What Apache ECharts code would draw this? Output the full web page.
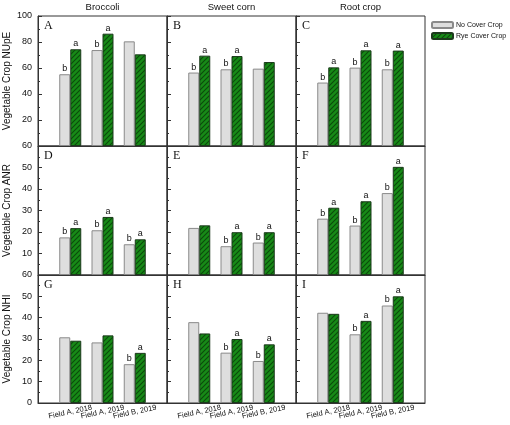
<!DOCTYPE html>
<html>
<head>
<meta charset="utf-8">
<script src="https://cdn.jsdelivr.net/npm/echarts@6/dist/echarts.min.js"></script>
<style>
html,body{margin:0;padding:0;background:#fff;}
#chart{width:510px;height:425px;}
</style>
</head>
<body>
<div id="chart"></div>
<script>
// ---- data ----
const categories = ['Field A, 2018', 'Field A, 2019', 'Field B, 2019'];
const cropTitles = ['Broccoli', 'Sweet corn', 'Root crop'];
const rowNames = ['Vegetable Crop NUpE', 'Vegetable Crop ANR', 'Vegetable Crop NHI'];
const panelLetters = ['A','B','C','D','E','F','G','H','I'];
const seriesNames = ['No Cover Crop', 'Rye Cover Crop'];

// values per panel (A..I), order of categories
const noCover = [
  [55.2, 73.8, 80.5],  // A
  [56.5, 59.0, 59.5],  // B
  [48.8, 60.3, 59.0],  // C
  [17.5, 20.8, 14.3],  // D
  [21.9, 13.4, 15.1],  // E
  [26.2, 23.0, 38.1],  // F
  [30.8, 28.4, 18.2],  // G
  [37.9, 23.6, 19.7],  // H
  [42.3, 32.2, 45.7]   // I
];
const ryeCover = [
  [74.4, 86.4, 70.5],
  [69.5, 69.2, 64.6],
  [60.5, 73.6, 73.4],
  [21.8, 27.0, 16.6],
  [23.1, 19.9, 19.9],
  [31.3, 34.3, 50.3],
  [29.2, 31.7, 23.5],
  [32.6, 30.0, 27.5],
  [41.8, 38.5, 50.0]
];
const noCoverLetters = [
  ['b','b',''], ['b','b',''], ['b','b','b'],
  ['b','b','b'], ['','b','b'], ['b','b','b'],
  ['','','b'], ['','b','b'], ['','b','b']
];
const ryeLetters = [
  ['a','a',''], ['a','a',''], ['a','a','a'],
  ['a','a','a'], ['','a','a'], ['a','a','a'],
  ['','','a'], ['','a','a'], ['','a','a']
];
// y axis ticks per row
const rowMax = [100, 60, 60];
const rowInterval = [20, 10, 10];

// ---- layout ----
const colLeft = [38, 167, 296];
const colWidth = 129;
const rowTop = [16, 146, 275];
const rowHeight = [130, 129, 128];

// hatch pattern for rye cover crop
function makeHatch() {
  const s = 5;
  const c = document.createElement('canvas');
  c.width = s; c.height = s;
  const g = c.getContext('2d');
  g.fillStyle = '#178a17';
  g.fillRect(0, 0, s, s);
  g.strokeStyle = '#0b4a0b';
  g.lineWidth = 1.1;
  g.beginPath();
  g.moveTo(-1, s + 1); g.lineTo(s + 1, -1);
  g.moveTo(-1, 1); g.lineTo(1, -1);
  g.moveTo(s - 1, s + 1); g.lineTo(s + 1, s - 1);
  g.stroke();
  return c;
}
const hatch = { image: makeHatch(), repeat: 'repeat' };

const xCats = [''].concat(categories).concat(['']);
const grids = [], xAxes = [], yAxes = [], series = [], graphics = [];
const font = 'Liberation Sans, Arial, sans-serif';

for (let p = 0; p < 9; p++) {
  const r = Math.floor(p / 3), c = p % 3;
  grids.push({
    left: colLeft[c], top: rowTop[r], width: colWidth, height: rowHeight[r],
    show: true, borderColor: '#333', borderWidth: 1, containLabel: false
  });
  xAxes.push({
    type: 'category', gridIndex: p, data: xCats, boundaryGap: false,
    axisLine: { lineStyle: { color: '#333' } },
    axisTick: { show: false },
    axisLabel: {
      show: r === 2, interval: 0, rotate: 12, fontSize: 7.5, color: '#111',
      fontFamily: font, align: 'center', margin: 9
    },
    splitLine: { show: false }
  });
  yAxes.push({
    type: 'value', gridIndex: p, min: 0, max: rowMax[r], interval: rowInterval[r],
    name: c === 0 ? rowNames[r] : '', nameLocation: 'middle', nameGap: 26,
    nameTextStyle: { fontSize: 10, color: '#111', fontFamily: font },
    axisLine: { show: true, lineStyle: { color: '#333' } },
    axisTick: { show: true, inside: true, length: 4, lineStyle: { color: '#333' } },
    minorTick: { show: true, splitNumber: 2, length: 2, lineStyle: { color: '#333' } },
    axisLabel: {
      show: c === 0, fontSize: 9, color: '#111', fontFamily: font, margin: 6,
      showMinLabel: r === 2, showMaxLabel: true
    },
    splitLine: { show: false }, minorSplitLine: { show: false }
  });
  const mk = (vals) => [null].concat(vals).concat([null]);
  const lbl = (letters) => ({
    show: true, position: 'top', distance: 1, fontSize: 9, color: '#111', fontFamily: font,
    formatter: (prm) => letters[prm.dataIndex - 1] || ''
  });
  series.push({
    name: seriesNames[0], type: 'bar', xAxisIndex: p, yAxisIndex: p,
    data: mk(noCover[p]), barWidth: 11, barGap: '0%',
    itemStyle: { color: '#dedede', borderColor: '#8a8a8a', borderWidth: 1 },
    label: lbl(noCoverLetters[p]), emphasis: { disabled: true }, animation: false
  });
  series.push({
    name: seriesNames[1], type: 'bar', xAxisIndex: p, yAxisIndex: p,
    data: mk(ryeCover[p]), barWidth: 11, barGap: '0%',
    itemStyle: { color: hatch, borderColor: '#1c3a1c', borderWidth: 1 },
    label: lbl(ryeLetters[p]), emphasis: { disabled: true }, animation: false
  });
  graphics.push({
    type: 'text', left: colLeft[c] + 6, top: rowTop[r] + 4,
    style: { text: panelLetters[p], font: '12px "Liberation Serif", "Times New Roman", serif', fill: '#111' }
  });
}
for (let c = 0; c < 3; c++) {
  graphics.push({
    type: 'text', x: colLeft[c] + colWidth / 2, y: 2,
    style: { text: cropTitles[c], font: '9.5px ' + font, fill: '#111', textAlign: 'center', textVerticalAlign: 'top' }
  });
}

const chart = echarts.init(document.getElementById('chart'), null, { renderer: 'canvas' });
chart.setOption({
  animation: false,
  backgroundColor: '#fff',
  grid: grids, xAxis: xAxes, yAxis: yAxes, series: series,
  legend: {
    data: seriesNames, orient: 'vertical', left: 431, top: 21, padding: 0,
    itemWidth: 21, itemHeight: 6, itemGap: 3,
    textStyle: { fontSize: 7, color: '#111', fontFamily: font, padding: [0, 0, 0, -2] },
    selectedMode: false
  },
  graphic: graphics
});
</script>
</body>
</html>
